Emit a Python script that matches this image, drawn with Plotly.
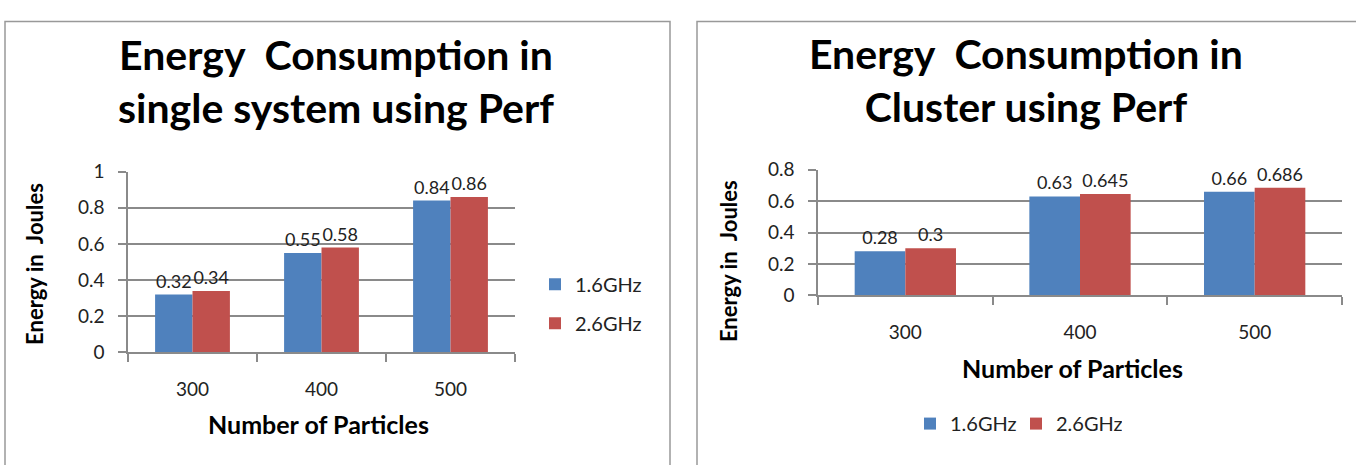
import plotly.graph_objects as go

categories = ["300", "400", "500"]
single_16 = [0.32, 0.55, 0.84]
single_26 = [0.34, 0.58, 0.86]
cluster_16 = [0.28, 0.63, 0.66]
cluster_26 = [0.30, 0.645, 0.686]
series_names = ["1.6GHz", "2.6GHz"]
left_title = "Energy  Consumption in<br>single system using Perf"
right_title = "Energy  Consumption in<br>Cluster using Perf"
y_title = "Energy in  Joules"
x_title = "Number of Particles"

BLUE = "#4F81BD"
RED = "#C0504D"
FONT = "Lato"
W, H = 1356, 465

def px(x):
    return x / W

def py(y):
    return (H - y) / H

fig = go.Figure()

fig.add_trace(go.Bar(x=categories, y=single_16, name=series_names[0], marker_color=BLUE,
                     text=[str(v) for v in single_16], textposition="outside",
                     xaxis="x", yaxis="y", legend="legend", legendgroup="a", cliponaxis=False))
fig.add_trace(go.Bar(x=categories, y=single_26, name=series_names[1], marker_color=RED,
                     text=[str(v) for v in single_26], textposition="outside",
                     xaxis="x", yaxis="y", legend="legend", legendgroup="b", cliponaxis=False))
fig.add_trace(go.Bar(x=categories, y=cluster_16, name=series_names[0], marker_color=BLUE,
                     text=[str(v) for v in cluster_16], textposition="outside",
                     xaxis="x2", yaxis="y2", legend="legend2", cliponaxis=False))
fig.add_trace(go.Bar(x=categories, y=cluster_26, name=series_names[1], marker_color=RED,
                     text=[str(v) for v in cluster_26], textposition="outside",
                     xaxis="x2", yaxis="y2", legend="legend2", cliponaxis=False))

fig.update_traces(marker_line_width=0, textfont=dict(family=FONT, size=18, color="#222"))

axis_common = dict(showline=True, linecolor="#8a8a8a", linewidth=1.5, ticks="outside",
                   ticklen=8, tickcolor="#8a8a8a", tickwidth=1.5,
                   tickfont=dict(family=FONT, size=19, color="#222"))

fig.update_layout(
    width=W, height=H,
    margin=dict(l=0, r=0, t=0, b=0),
    paper_bgcolor="white", plot_bgcolor="white",
    barmode="group",
    bargroupgap=0,
    xaxis=dict(domain=[px(128), px(515)], anchor="y", tickson="boundaries",
               showgrid=False, ticklabelstandoff=19, **axis_common),
    yaxis=dict(domain=[py(358), py(168)], anchor="x", range=[0, 1], dtick=0.2,
               showgrid=True, gridcolor="#8a8a8a", gridwidth=1.5, zeroline=False,
               tickformat="~g", ticklabelstandoff=10, **axis_common),
    xaxis2=dict(domain=[px(818), px(1342)], anchor="y2", tickson="boundaries",
                showgrid=False, ticklabelstandoff=19, **axis_common),
    yaxis2=dict(domain=[py(298), py(166)], anchor="x2", range=[0, 0.8], dtick=0.2,
                showgrid=True, gridcolor="#8a8a8a", gridwidth=1.5, zeroline=False,
                tickformat="~g", ticklabelstandoff=10, **axis_common),
    legend=dict(x=px(535), y=py(266), xanchor="left", yanchor="top",
                font=dict(family=FONT, size=20, color="#222"),
                tracegroupgap=10, traceorder="grouped", bgcolor="rgba(0,0,0,0)"),
    legend2=dict(x=px(910), y=py(433), xanchor="left", yanchor="middle",
                 orientation="h", font=dict(family=FONT, size=20, color="#222"),
                 entrywidth=61, bgcolor="rgba(0,0,0,0)"),
    bargap=0.42,
    showlegend=True,
)

annotations = [
    dict(text=left_title, x=px(336), y=py(73), font=dict(family=FONT, size=41, color="black", weight="bold")),
    dict(text=right_title, x=px(1026), y=py(72), font=dict(family=FONT, size=41, color="black", weight="bold")),
    dict(text=y_title, x=px(35), y=py(265), textangle=-90, font=dict(family=FONT, size=22, color="black", weight="bold")),
    dict(text=y_title, x=px(728), y=py(262), textangle=-90, font=dict(family=FONT, size=22, color="black", weight="bold")),
    dict(text=x_title, x=px(318), y=py(433), font=dict(family=FONT, size=25, color="black", weight="bold")),
    dict(text=x_title, x=px(1072), y=py(374), font=dict(family=FONT, size=25, color="black", weight="bold")),
]
for a in annotations:
    a.update(xref="paper", yref="paper", showarrow=False, xanchor="center", yanchor="middle")
fig.update_layout(annotations=annotations)

fig.update_layout(shapes=[
    dict(type="rect", xref="paper", yref="paper", x0=px(5), x1=px(670), y0=-0.05, y1=py(10),
         line=dict(color="#999", width=1.5)),
    dict(type="rect", xref="paper", yref="paper", x0=px(697), x1=1.05, y0=-0.05, y1=py(10),
         line=dict(color="#999", width=1.5)),
])

fig.write_html("out.html")
